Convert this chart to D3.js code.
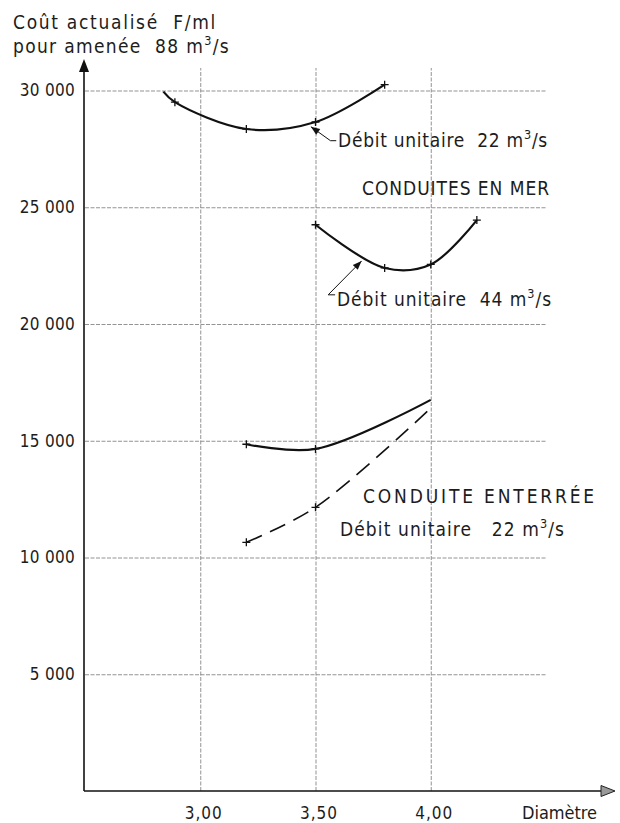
<!DOCTYPE html>
<html>
<head>
<meta charset="utf-8">
<script src="https://cdn.jsdelivr.net/npm/d3@7"></script>
<style>
  body { margin: 0; background: #fff; }
  svg text { font-family: "DejaVu Sans Condensed", "DejaVu Sans", sans-serif; font-stretch: condensed; fill: #1c1c1c; white-space: pre; }
</style>
</head>
<body>
<script>
// values (diamètre en m, coût actualisé en F/ml)
var merDiam22 = [2.84, 2.89, 3.20, 3.50, 3.80];
var merCout22 = [29950, 29500, 28350, 28650, 30250];
var merMark22 = [0, 1, 1, 1, 1];

var merDiam44 = [3.50, 3.80, 4.00, 4.20];
var merCout44 = [24250, 22400, 22550, 24450];
var merMark44 = [1, 1, 1, 1];

var terDiam = [3.20, 3.50, 4.00];
var terCoutPlein = [14850, 14650, 16750];
var terCoutTirets = [10650, 12150, 16400];
var terMark = [1, 1, 0];

var yTicks = [5000, 10000, 15000, 20000, 25000, 30000];
var yTickLabels = ["5 000", "10 000", "15 000", "20 000", "25 000", "30 000"];
var xTicks = [3.0, 3.5, 4.0];
var xTickLabels = ["3,00", "3,50", "4,00"];

var width = 620, height = 823;

var svg = d3.select("body").append("svg")
    .attr("width", width)
    .attr("height", height);

// scales
var x = d3.scaleLinear().domain([2.5, 4.5]).range([85, 546]);
var y = d3.scaleLinear().domain([0, 30000]).range([791, 90.5]);

var gridStyle = function(sel) {
  sel.select(".domain").remove();
  sel.selectAll(".tick line")
      .attr("stroke", "#777")
      .attr("stroke-width", 0.8)
      .attr("stroke-dasharray", "4,1.5");
};

// horizontal grid + y tick labels
var yAxis = svg.append("g")
    .attr("transform", "translate(" + x(2.5) + ",0)")
    .call(d3.axisLeft(y)
      .tickValues(yTicks)
      .tickFormat(function(d, i) { return yTickLabels[i]; })
      .tickSize(-(x(4.5) - x(2.5)))
      .tickPadding(10));
gridStyle(yAxis);
yAxis.selectAll("text")
    .attr("font-size", 17)
    .attr("letter-spacing", 0.3)
    .attr("fill", "#1c1c1c");

// vertical grid + x tick labels
var xAxis = svg.append("g")
    .attr("transform", "translate(0," + y(0) + ")")
    .call(d3.axisBottom(x)
      .tickValues(xTicks)
      .tickFormat(function(d, i) { return xTickLabels[i]; })
      .tickSize(-(y(0) - 68))
      .tickPadding(16));
gridStyle(xAxis);
xAxis.selectAll("text")
    .attr("font-size", 17)
    .attr("letter-spacing", 1)
    .attr("dx", 3)
    .attr("fill", "#1c1c1c");

svg.selectAll(".tick text").attr("font-family", null);

// main axes with arrows
svg.append("line")
    .attr("x1", x(2.5) - 1).attr("x2", x(2.5) - 1)
    .attr("y1", y(0)).attr("y2", 70)
    .attr("stroke", "#111").attr("stroke-width", 1.6);
svg.append("path")
    .attr("d", "M" + (x(2.5) - 1) + ",59 l-5,13 l10,0 z")
    .attr("fill", "#111");
svg.append("line")
    .attr("x1", x(2.5) - 1).attr("x2", 604)
    .attr("y1", y(0)).attr("y2", y(0))
    .attr("stroke", "#111").attr("stroke-width", 1.6);
svg.append("path")
    .attr("d", "M615," + y(0) + " l-14,-5.5 l0,11 z")
    .attr("fill", "#999").attr("stroke", "#222").attr("stroke-width", 1);

// curves
var line = d3.line()
    .x(function(d) { return x(d[0]); })
    .y(function(d) { return y(d[1]); })
    .curve(d3.curveCatmullRom.alpha(0.5));

function series(diam, cout, mark, dash, sw) {
  var pts = diam.map(function(d, i) { return [d, cout[i], mark[i]]; });
  svg.append("path")
      .datum(pts)
      .attr("d", line)
      .attr("fill", "none")
      .attr("stroke", "#111")
      .attr("stroke-width", sw)
      .attr("stroke-dasharray", dash);
  svg.append("g").selectAll("path")
      .data(pts.filter(function(p) { return p[2]; }))
      .enter()
      .append("path")
      .attr("d", function(p) {
        var cx = x(p[0]), cy = y(p[1]);
        return "M" + (cx - 4) + "," + cy + "h8M" + cx + "," + (cy - 4) + "v8";
      })
      .attr("stroke", "#111")
      .attr("stroke-width", 1.3);
}

series(merDiam22, merCout22, merMark22, null, 2.2);
series(merDiam44, merCout44, merMark44, null, 2.2);
series(terDiam, terCoutPlein, terMark, null, 2.2);
series(terDiam, terCoutTirets, terMark, "17,9", 1.6);

// leader arrows for the "Débit unitaire" notes
function leader(tip, corner, end) {
  var tx = x(tip[0]), ty = y(tip[1]);
  var cx = x(corner[0]), cy = y(corner[1]);
  svg.append("path")
      .attr("d", "M" + tx + "," + ty + "L" + cx + "," + cy + "L" + x(end[0]) + "," + y(end[1]))
      .attr("fill", "none").attr("stroke", "#111").attr("stroke-width", 1);
  var a = Math.atan2(ty - cy, tx - cx);
  var l = 9, w = 3.5;
  var bx = tx - l * Math.cos(a), by = ty - l * Math.sin(a);
  svg.append("path")
      .attr("d", "M" + tx + "," + ty +
        "L" + (bx + w * Math.sin(a)) + "," + (by - w * Math.cos(a)) +
        "L" + (bx - w * Math.sin(a)) + "," + (by + w * Math.cos(a)) + "Z")
      .attr("fill", "#111");
}
leader([3.48, 28450], [3.565, 27850], [3.59, 27850]);
leader([3.70, 22700], [3.555, 21250], [3.585, 21250]);

// texts, spread with letter-spacing to the width they take in the figure
function label(px, py, parts, size, target) {
  var t = svg.append("text")
      .attr("x", px).attr("y", py)
      .attr("font-size", size);
  var n = 0, up = false;
  parts.forEach(function(p) {
    var s = t.append("tspan").text(p.s);
    n += p.s.length;
    if (p.sup) { s.attr("dy", -8).attr("font-size", size * 0.66); up = true; }
    else if (up) { s.attr("dy", 8); up = false; }
  });
  var w = t.node().getComputedTextLength();
  t.attr("letter-spacing", (target - w) / n);
}

label(13, 29, [{s: "Coût actualisé  F/ml"}], 19, 204);
label(13, 53, [{s: "pour amenée  88 m"}, {s: "3", sup: 1}, {s: "/s"}], 19, 217);
label(338, 147, [{s: "Débit unitaire  22 m"}, {s: "3", sup: 1}, {s: "/s"}], 19, 210);
label(362, 195, [{s: "CONDUITES EN MER"}], 19, 188);
label(337, 306, [{s: "Débit unitaire  44 m"}, {s: "3", sup: 1}, {s: "/s"}], 19, 215);
label(363, 503, [{s: "CONDUITE ENTERRÉE"}], 19, 234);
label(340, 536, [{s: "Débit unitaire   22 m"}, {s: "3", sup: 1}, {s: "/s"}], 19, 225);
label(522, 819, [{s: "Diamètre"}], 18, 75);
</script>
</body>
</html>
